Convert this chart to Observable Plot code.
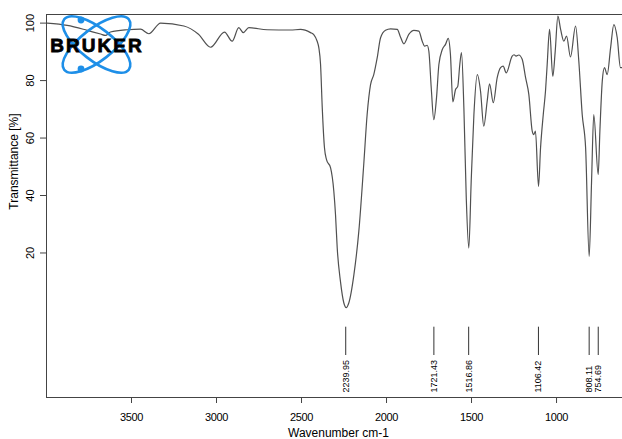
<!DOCTYPE html>
<html><head><meta charset="utf-8">
<script src="https://cdn.jsdelivr.net/npm/d3@7"></script>
<script src="https://cdn.jsdelivr.net/npm/@observablehq/plot@0.6"></script>
<style>
html,body{margin:0;padding:0;background:#fff;}
svg [aria-label="x-axis tick label"] text{letter-spacing:-0.4px;}
</style></head><body><div id="chart"></div>
<script>
const wavenumber = [3996,3878,3761,3682,3653,3624,3525,3447,3398,3329,
  3192,3106,3035,2953,2908,2869,2843,2810,2702,2565,
  2506,2447,2428,2408,2398,2388,2378,2365,2353,2329,
  2310,2300,2290,2271,2251,2237,2222,2192,2163,2134,
  2114,2094,2075,2055,2035,2006,1976,1937,1918,1898,
  1869,1839,1810,1790,1776,1761,1751,1737,1722,1706,
  1692,1672,1653,1637,1624,1610,1594,1581,1569,1559,
  1545,1531,1516,1502,1486,1466,1447,1428,1408,1394,
  1372,1349,1329,1314,1296,1261,1250,1238,1222,1202,
  1182,1163,1143,1134,1124,1106,1094,1078,1065,1055,
  1041,1022,1008,992,976,957,941,918,888,869,
  849,829,808,794,781,755,745,731,718,702,
  682,663,643,624,612];
const transmittance = [100.0,99.2,97.5,96.2,95.7,96.9,97.7,97.9,96.3,100.0,
  99.0,96.1,91.6,96.9,93.7,98.4,96.7,98.4,97.7,97.6,
  97.8,96.7,96.0,93.7,91.4,85.6,70.5,56.6,52.5,49.6,
  41.5,33.3,21.7,10.1,2.6,1.0,2.6,12.4,27.5,50.8,
  68.2,78.6,82.1,87.9,94.9,97.5,98.0,97.8,95.2,92.8,
  96.1,97.5,97.2,93.7,92.0,92.3,90.2,77.5,66.4,74.0,
  85.6,90.8,92.6,94.7,89.1,72.6,76.9,78.0,85.6,89.7,
  70.5,39.2,21.7,44.9,68.2,82.1,76.3,64.1,72.8,78.9,
  72.3,81.0,84.5,85.0,82.7,88.5,89.0,88.5,88.9,87.4,
  81.0,75.2,62.4,61.2,62.4,43.2,56.6,68.2,76.3,85.6,
  97.8,81.5,90.0,102.4,97.8,93.7,95.5,88.2,99.0,86.8,
  68.2,56.6,18.8,44.9,68.2,47.3,62.4,79.8,84.5,82.1,
  91.4,99.5,94.9,84.5,84.5];
const peakWavenumbers = [2239.95, 1721.43, 1516.86, 1106.42, 808.11, 754.69];
const peakLabels = ["2239.95", "1721.43", "1516.86", "1106.42", "808.11", "754.69"];
const xTicks = [3500, 3000, 2500, 2000, 1500, 1000];
const yTicks = [20, 40, 60, 80, 100];
const xDomain = [4000, 612];
const yDomain = [-30.3, 103];
const xTitle = "Wavenumber cm-1";
const yTitle = "Transmittance [%]";

const spectrum = wavenumber.map((w, i) => ({w, t: transmittance[i]}));
const peaks = peakWavenumbers.map((w, i) => ({w, label: peakLabels[i]}));
const font = "'Liberation Sans', Arial, Helvetica, sans-serif";
const frameColor = "#444";

const plot = Plot.plot({
  width: 622, height: 439,
  marginLeft: 46, marginRight: 0, marginTop: 14, marginBottom: 42,
  style: {fontFamily: font, fontSize: "11px", color: "#000", background: "#fff", overflow: "visible"},
  x: {domain: xDomain, label: null},
  y: {domain: yDomain, label: null},
  marks: [
    Plot.ruleX([xDomain[0]], {stroke: frameColor}),
    Plot.ruleY([yDomain[1]], {stroke: frameColor}),
    Plot.ruleY([yDomain[0]], {stroke: frameColor}),
    Plot.axisX(xTicks, {anchor: "bottom", tickSize: 6, tickPadding: 10, stroke: frameColor, tickFormat: d => String(d), fontSize: 11}),
    Plot.axisY(yTicks, {anchor: "left", tickSize: 6, stroke: frameColor, tickFormat: () => ""}),
    Plot.text(yTicks, {y: d => d, frameAnchor: "left", dx: -16.5, rotate: -90, textAnchor: "middle", lineAnchor: "middle", text: d => String(d), fontSize: 11, fill: "#000"}),
    Plot.line(spectrum, {x: "w", y: "t", stroke: "#505050", strokeWidth: 1.2, curve: "monotone-x"}),
    Plot.ruleX(peaks, {x: "w", stroke: "#333", strokeWidth: 1, insetTop: 312.7, insetBottom: 42}),
    Plot.text(peaks, {x: "w", text: "label", frameAnchor: "bottom", dy: -5, rotate: -90, textAnchor: "start", lineAnchor: "middle", fontSize: 9, fill: "#000"}),
    Plot.text([xTitle], {frameAnchor: "bottom", dx: 4, dy: 36, textAnchor: "middle", lineAnchor: "middle", text: d => d, fontSize: 12, fill: "#000"}),
    Plot.text([yTitle], {frameAnchor: "top-left", dx: -32, dy: 147, rotate: -90, textAnchor: "middle", lineAnchor: "middle", text: d => d, fontSize: 12, fill: "#000"})
  ]
});

// Bruker logo decoration
const svg = d3.select(plot);
const logo = svg.append("g").attr("aria-label", "logo");
const blue = "#1e8fe8";
const cx = 96.5, cy = 44.5;
[38, -38].forEach(a => {
  logo.append("ellipse").attr("cx", cx).attr("cy", cy).attr("rx", 41).attr("ry", 16)
    .attr("transform", `rotate(${a} ${cx} ${cy})`)
    .attr("fill", "none").attr("stroke", blue).attr("stroke-width", 2.6);
});
logo.append("circle").attr("cx", 81).attr("cy", 20).attr("r", 3.4).attr("fill", blue);
logo.append("circle").attr("cx", 81).attr("cy", 69).attr("r", 3.4).attr("fill", blue);
logo.append("text").attr("x", 97).attr("y", 52).attr("text-anchor", "middle")
  .attr("font-family", "'Liberation Sans', Arial, sans-serif").attr("font-weight", 900)
  .attr("font-size", 19).attr("letter-spacing", 2).attr("fill", "#000")
  .attr("stroke", "#000").attr("stroke-width", 0.8).text("BRUKER");

document.getElementById("chart").appendChild(plot);
</script></body></html>
